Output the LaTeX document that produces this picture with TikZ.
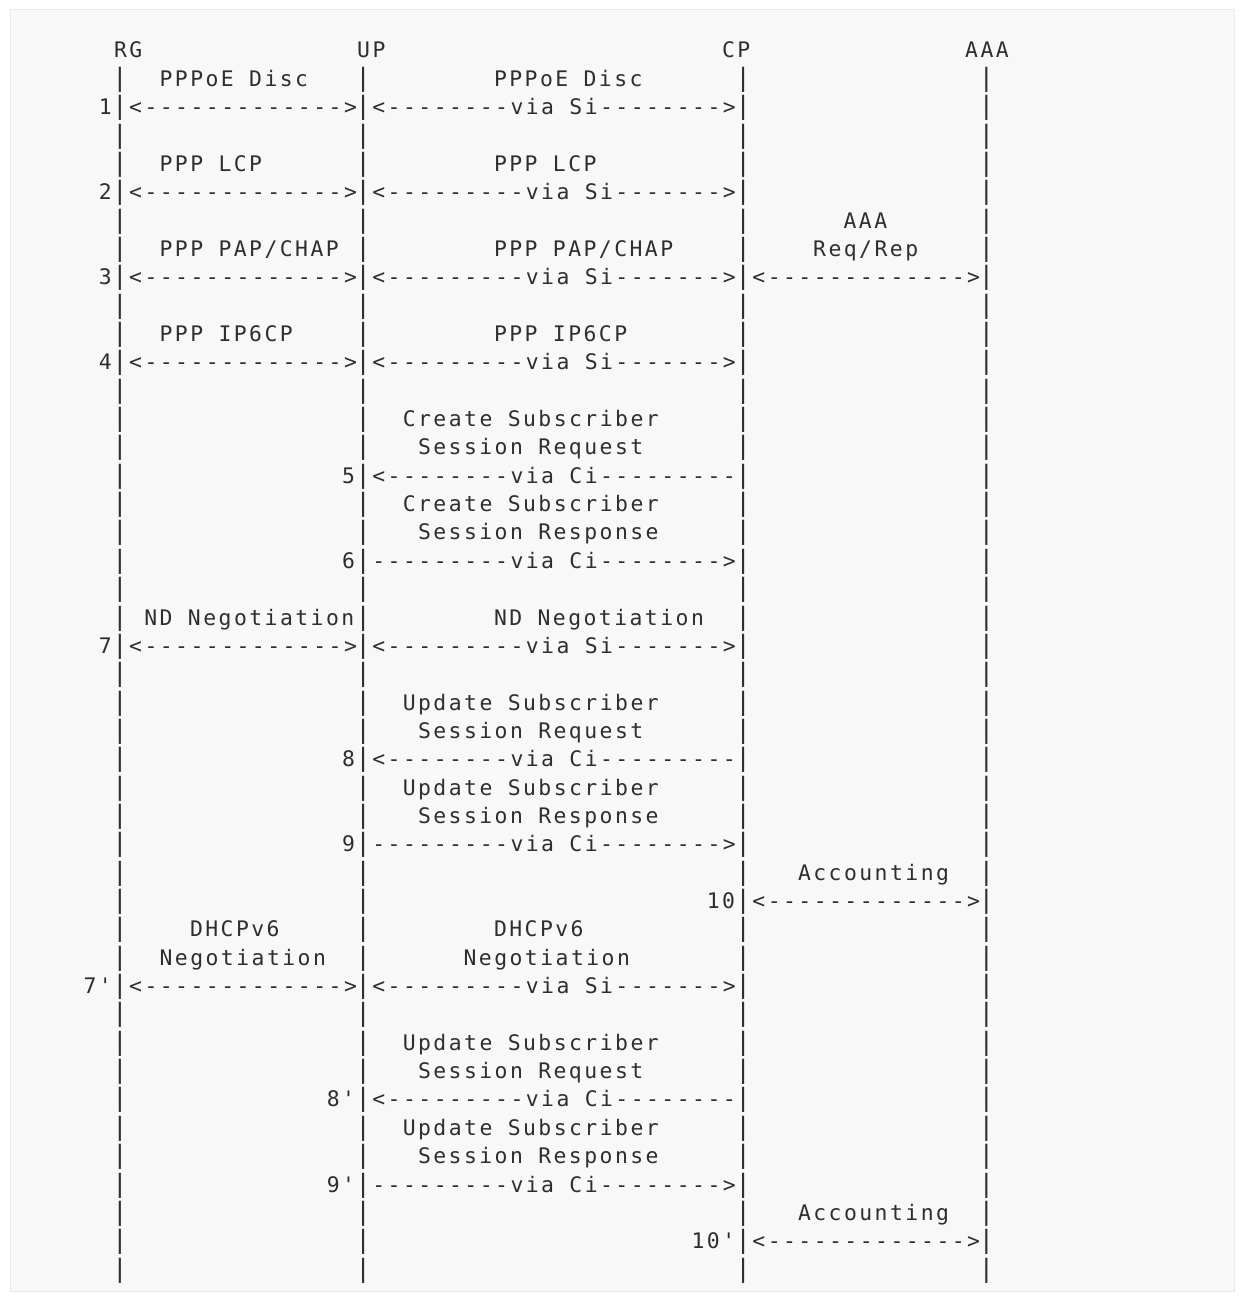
\documentclass[tikz,border=0pt]{standalone}
\usepackage{fontspec}
\newfontfamily\seqfont{DejaVu Sans Mono}[Ligatures=TeXOff,LetterSpace=11.5]
\newfontfamily\barfont{DejaVu Sans Mono}[Ligatures=TeXOff]
\definecolor{ink}{HTML}{2E2E2E}
\definecolor{boxfill}{HTML}{F8F8F8}
\definecolor{boxline}{HTML}{EAEAEA}

\begin{document}
\begin{tikzpicture}[
  x=7.6pt, y=-14.175pt,
  seq/.style={font=\seqfont\fontsize{10.7}{12}\selectfont, text=ink,
              inner sep=0pt, anchor=base west, xshift=0.6pt},
  bar/.style={font=\barfont\fontsize{12.6}{14}\selectfont, text=ink,
              inner sep=0pt, anchor=base}
]
  % one column = one character cell, one row = one text line
  \useasboundingbox ({-112.4/15.2},{-58/28.35}) rectangle ({(1245-112.4)/15.2},{(1304-58)/28.35});
  \fill[boxfill, draw=boxline] ({(10-112.4)/15.2},{(9-58)/28.35}) rectangle ({(1234-112.4)/15.2},{(1291-58)/28.35});

  % Entities
  \node[seq] (rg)  at (0,0)  {RG};
  \node[seq] (up)  at (16,0) {UP};
  \node[seq] (cp)  at (40,0) {CP};
  \node[seq] (aaa) at (56,0) {AAA};

  % Life lines
  \foreach \c/\n in {0/rg,16/up,41/cp,57/aaa}
    \foreach \r in {1,...,43}
      \node[bar] (\n\r) at (\c+0.5,\r) {|};

  % 1
  \node[seq] (lbl1a) at (3,1)  {PPPoE Disc};
  \node[seq] (lbl1b) at (25,1) {PPPoE Disc};
  \node[seq] (num1)  at (-1,2) {1};
  \node[seq] (msg1a) at (1,2)  {<------------->};
  \node[seq] (msg1b) at (17,2) {<--------via Si-------->};
  % 2
  \node[seq] (lbl2a) at (3,4)  {PPP LCP};
  \node[seq] (lbl2b) at (25,4) {PPP LCP};
  \node[seq] (num2)  at (-1,5) {2};
  \node[seq] (msg2a) at (1,5)  {<------------->};
  \node[seq] (msg2b) at (17,5) {<---------via Si------->};
  % 3
  \node[seq] (lbl3c) at (48,6) {AAA};
  \node[seq] (lbl3a) at (3,7)  {PPP PAP/CHAP};
  \node[seq] (lbl3b) at (25,7) {PPP PAP/CHAP};
  \node[seq] (lbl3d) at (46,7) {Req/Rep};
  \node[seq] (num3)  at (-1,8) {3};
  \node[seq] (msg3a) at (1,8)  {<------------->};
  \node[seq] (msg3b) at (17,8) {<---------via Si------->};
  \node[seq] (msg3c) at (42,8) {<------------->};
  % 4
  \node[seq] (lbl4a) at (3,10)  {PPP IP6CP};
  \node[seq] (lbl4b) at (25,10) {PPP IP6CP};
  \node[seq] (num4)  at (-1,11) {4};
  \node[seq] (msg4a) at (1,11)  {<------------->};
  \node[seq] (msg4b) at (17,11) {<---------via Si------->};
  % 5
  \node[seq] (lbl5a) at (19,13) {Create Subscriber};
  \node[seq] (lbl5b) at (20,14) {Session Request};
  \node[seq] (num5)  at (15,15) {5};
  \node[seq] (msg5)  at (17,15) {<--------via Ci---------};
  % 6
  \node[seq] (lbl6a) at (19,16) {Create Subscriber};
  \node[seq] (lbl6b) at (20,17) {Session Response};
  \node[seq] (num6)  at (15,18) {6};
  \node[seq] (msg6)  at (17,18) {---------via Ci-------->};
  % 7
  \node[seq] (lbl7a) at (2,20)  {ND Negotiation};
  \node[seq] (lbl7b) at (25,20) {ND Negotiation};
  \node[seq] (num7)  at (-1,21) {7};
  \node[seq] (msg7a) at (1,21)  {<------------->};
  \node[seq] (msg7b) at (17,21) {<---------via Si------->};
  % 8
  \node[seq] (lbl8a) at (19,23) {Update Subscriber};
  \node[seq] (lbl8b) at (20,24) {Session Request};
  \node[seq] (num8)  at (15,25) {8};
  \node[seq] (msg8)  at (17,25) {<--------via Ci---------};
  % 9
  \node[seq] (lbl9a) at (19,26) {Update Subscriber};
  \node[seq] (lbl9b) at (20,27) {Session Response};
  \node[seq] (num9)  at (15,28) {9};
  \node[seq] (msg9)  at (17,28) {---------via Ci-------->};
  % 10
  \node[seq] (lbl10) at (45,29) {Accounting};
  \node[seq] (num10) at (39,30) {10};
  \node[seq] (msg10) at (42,30) {<------------->};
  % 7'
  \node[seq] (lbl7pa) at (5,31)  {DHCPv6};
  \node[seq] (lbl7pb) at (25,31) {DHCPv6};
  \node[seq] (lbl7pc) at (3,32)  {Negotiation};
  \node[seq] (lbl7pd) at (23,32) {Negotiation};
  \node[seq] (num7p)  at (-2,33) {7'};
  \node[seq] (msg7pa) at (1,33)  {<------------->};
  \node[seq] (msg7pb) at (17,33) {<---------via Si------->};
  % 8'
  \node[seq] (lbl8pa) at (19,35) {Update Subscriber};
  \node[seq] (lbl8pb) at (20,36) {Session Request};
  \node[seq] (num8p)  at (14,37) {8'};
  \node[seq] (msg8p)  at (17,37) {<---------via Ci--------};
  % 9'
  \node[seq] (lbl9pa) at (19,38) {Update Subscriber};
  \node[seq] (lbl9pb) at (20,39) {Session Response};
  \node[seq] (num9p)  at (14,40) {9'};
  \node[seq] (msg9p)  at (17,40) {---------via Ci-------->};
  % 10'
  \node[seq] (lbl10p) at (45,41) {Accounting};
  \node[seq] (num10p) at (38,42) {10'};
  \node[seq] (msg10p) at (42,42) {<------------->};
\end{tikzpicture}
\end{document}
